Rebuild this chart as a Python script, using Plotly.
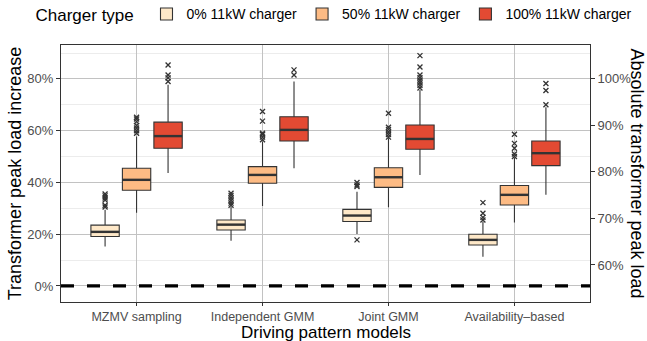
import plotly.graph_objects as go

# ---------------- data ----------------
categories = ["MZMV sampling", "Independent GMM", "Joint GMM", "Availability\u2013based"]
series_names = ["0% 11kW charger", "50% 11kW charger", "100% 11kW charger"]

q1_0 = [0.191, 0.216, 0.249, 0.158]
med_0 = [0.209, 0.237, 0.272, 0.178]
q3_0 = [0.235, 0.255, 0.296, 0.200]
lo_0 = [0.152, 0.175, 0.201, 0.113]
hi_0 = [0.294, 0.306, 0.364, 0.249]
out_0 = [[0.305, 0.312, 0.332, 0.340, 0.348, 0.355],
         [0.312, 0.320, 0.330, 0.340, 0.350, 0.358],
         [0.178, 0.384, 0.390, 0.400],
         [0.255, 0.265, 0.281, 0.322]]

q1_50 = [0.370, 0.397, 0.381, 0.313]
med_50 = [0.410, 0.429, 0.420, 0.352]
q3_50 = [0.455, 0.461, 0.457, 0.388]
lo_50 = [0.283, 0.309, 0.304, 0.245]
hi_50 = [0.577, 0.558, 0.571, 0.494]
out_50 = [[0.590, 0.600, 0.610, 0.620, 0.635, 0.645, 0.652],
          [0.565, 0.575, 0.585, 0.590, 0.637, 0.674],
          [0.575, 0.585, 0.595, 0.605, 0.613, 0.667],
          [0.500, 0.510, 0.532, 0.551, 0.586]]

q1_100 = [0.532, 0.560, 0.528, 0.465]
med_100 = [0.579, 0.603, 0.568, 0.513]
q3_100 = [0.633, 0.654, 0.622, 0.560]
lo_100 = [0.436, 0.455, 0.429, 0.352]
hi_100 = [0.777, 0.790, 0.757, 0.690]
out_100 = [[0.790, 0.804, 0.815, 0.854],
           [0.815, 0.835],
           [0.765, 0.775, 0.785, 0.795, 0.805, 0.815, 0.846, 0.890],
           [0.700, 0.755, 0.782]]

left_ticks = [0.0, 0.2, 0.4, 0.6, 0.8]
right_ticks = [0.6, 0.7, 0.8, 0.9, 1.0]
base_load = 0.555  # absolute load at 0% increase

# ---------------- style ----------------
colors = ["#FEE8C8", "#FDBB84", "#E34A33"]
edge = "#333333"
dodge = 0.25
box_w = 0.225
y_range = [-0.062, 0.931]
FONT = "Liberation Sans, Arial, sans-serif"

series = [
    (q1_0, med_0, q3_0, lo_0, hi_0, out_0),
    (q1_50, med_50, q3_50, lo_50, hi_50, out_50),
    (q1_100, med_100, q3_100, lo_100, hi_100, out_100),
]

fig = go.Figure()
for k, (q1, med, q3, lo, hi, outs) in enumerate(series):
    pos = [i + (k - 1) * dodge for i in range(len(categories))]
    fig.add_trace(go.Box(
        x=pos, q1=q1, median=med, q3=q3, lowerfence=lo, upperfence=hi,
        width=box_w, whiskerwidth=0, boxpoints=False,
        fillcolor=colors[k], line=dict(color=edge, width=1.1),
        name=series_names[k], showlegend=True, hoverinfo="skip",
    ))
    # thicker median lines
    mx, my = [], []
    for p, m in zip(pos, med):
        mx += [p - box_w / 2, p + box_w / 2, None]
        my += [m, m, None]
    fig.add_trace(go.Scatter(x=mx, y=my, mode="lines",
                             line=dict(color=edge, width=2.4),
                             showlegend=False, hoverinfo="skip"))
    # outliers
    ox, oy = [], []
    for p, vals in zip(pos, outs):
        ox += [p] * len(vals)
        oy += vals
    fig.add_trace(go.Scatter(x=ox, y=oy, mode="markers",
                             marker=dict(symbol="x-thin-open", size=5, color=edge,
                                         line=dict(color=edge, width=1.3)),
                             showlegend=False, hoverinfo="skip"))

# invisible trace to anchor secondary axis
fig.add_trace(go.Scatter(x=[None], y=[None], yaxis="y2", showlegend=False,
                         hoverinfo="skip"))

fig.add_hline(y=0, line=dict(color="black", width=3.2, dash="13px,13px"))

tickfont = dict(family=FONT, size=13, color="#4d4d4d")
xtickfont = dict(family=FONT, size=12.5, color="#4d4d4d")

fig.update_layout(
    width=647, height=341,
    margin=dict(l=61, r=57, t=45, b=39, autoexpand=False),
    plot_bgcolor="white", paper_bgcolor="white",
    font=dict(family=FONT, color="black"),
    xaxis=dict(
        range=[-0.6, 3.6], tickvals=list(range(len(categories))),
        ticktext=categories, tickfont=xtickfont,
        showgrid=True, gridcolor="#c2c2c2", gridwidth=1.2,
        showline=True, linecolor=edge, linewidth=1, mirror=True,
        ticks="outside", ticklen=3, tickcolor=edge, zeroline=False,
    ),
    yaxis=dict(
        range=y_range, tickvals=left_ticks, tickformat=".0%", tickfont=tickfont,
        showgrid=True, gridcolor="#c2c2c2", gridwidth=1.2,
        minor=dict(showgrid=True, gridcolor="#ececec", gridwidth=1, dtick=0.1, tick0=0),
        showline=True, linecolor=edge, linewidth=1, mirror=True,
        ticks="outside", ticklen=4, tickcolor=edge, zeroline=False,
        title=dict(text="Transformer peak load increase", font=dict(size=18, color="black"), standoff=1),
    ),
    yaxis2=dict(
        overlaying="y", side="right",
        range=[base_load * (1 + y_range[0]), base_load * (1 + y_range[1])],
        tickvals=right_ticks, tickformat=".0%", tickfont=tickfont,
        showgrid=False, zeroline=False, showline=True, linecolor=edge, linewidth=1,
        ticks="outside", ticklen=4, tickcolor=edge,
    ),
    legend=dict(
        orientation="h", x=-0.052, xanchor="left", y=1.117, yanchor="middle",
        title=dict(text="Charger type ", font=dict(size=17, color="black"), side="left"),
        font=dict(size=14, color="black"), tracegroupgap=0,
    ),
    annotations=[
        dict(text="Absolute transformer peak load", xref="paper", yref="paper",
             x=1.089, y=0.5, textangle=90, showarrow=False,
             font=dict(size=18, color="black"), xanchor="center", yanchor="middle"),
        dict(text="Driving pattern models", xref="paper", yref="paper",
             x=0.5, y=-0.117, showarrow=False,
             font=dict(size=17, color="black"), xanchor="center", yanchor="middle"),
    ],
)

fig.write_html("out.html", config={"displayModeBar": False},
               post_script="document.body.style.margin='0';")
